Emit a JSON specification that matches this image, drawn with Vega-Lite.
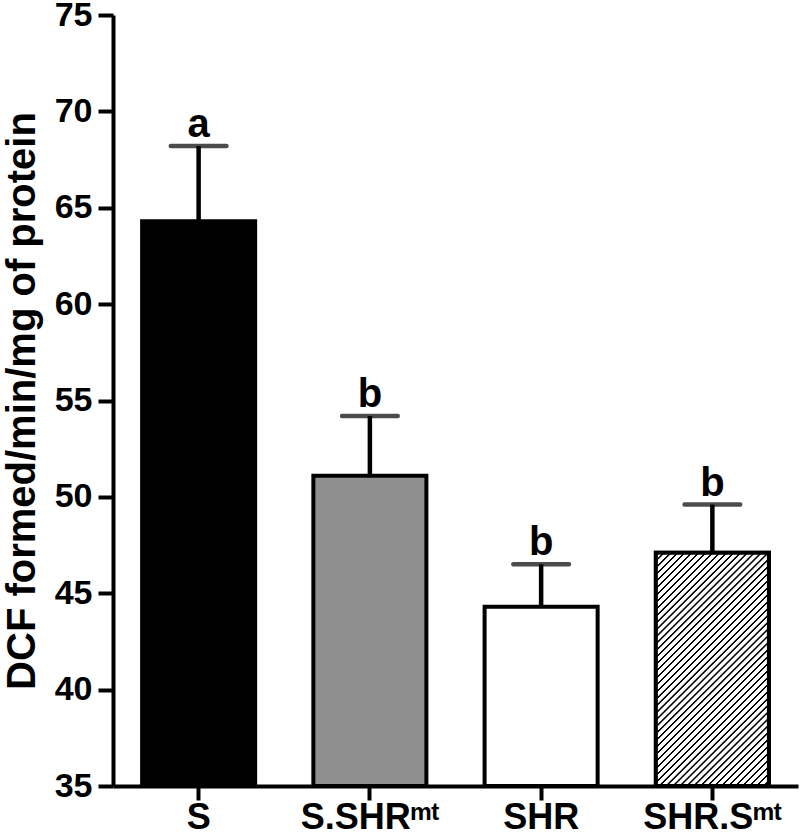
{
  "$schema": "https://vega.github.io/schema/vega-lite/v6.json",
  "width": 685,
  "height": 771,
  "autosize": {"type": "none"},
  "padding": {"left": 113, "top": 15, "right": 2, "bottom": 52},
  "config": {
    "view": {"stroke": null},
    "font": "Liberation Sans",
    "axis": {
      "domainColor": "#000000",
      "domainWidth": 4,
      "tickColor": "#000000",
      "tickWidth": 4,
      "labelColor": "#000000",
      "labelFont": "Liberation Sans",
      "labelFontWeight": "bold",
      "titleFont": "Liberation Sans",
      "titleFontWeight": "bold",
      "titleColor": "#000000",
      "grid": false
    }
  },
  "data": {
    "values": [
      {"group": "S", "mean": 64.3, "upper": 68.2, "letter": "a"},
      {"group": "S.SHRᵐᵗ", "mean": 51.1, "upper": 54.2, "letter": "b"},
      {"group": "SHR", "mean": 44.3, "upper": 46.5, "letter": "b"},
      {"group": "SHR.Sᵐᵗ", "mean": 47.1, "upper": 49.6, "letter": "b"}
    ]
  },
  "encoding": {
    "x": {
      "field": "group",
      "type": "nominal",
      "sort": null,
      "scale": {"paddingInner": 0.34, "paddingOuter": 0.17},
      "axis": {
        "title": null,
        "labelAngle": 0,
        "labelFontSize": 36,
        "labelPadding": 0,
        "tickSize": 14
      }
    }
  },
  "layer": [
    {
      "mark": {"type": "rule", "strokeWidth": 4.5, "color": "#000000"},
      "encoding": {
        "y": {"field": "mean", "type": "quantitative"},
        "y2": {"field": "upper"}
      }
    },
    {
      "mark": {"type": "tick", "size": 60, "thickness": 4.5, "color": "#000000", "cornerRadius": 2},
      "encoding": {
        "y": {"field": "upper", "type": "quantitative"}
      }
    },
    {
      "mark": {"type": "bar", "stroke": "#000000", "strokeWidth": 4},
      "encoding": {
        "y": {
          "field": "mean",
          "type": "quantitative",
          "scale": {"domain": [35, 75], "zero": false, "nice": false},
          "axis": {
            "values": [35, 40, 45, 50, 55, 60, 65, 70, 75],
            "labelFontSize": 34,
            "labelPadding": 6,
            "tickSize": 15,
            "title": "DCF formed/min/mg of protein",
            "titleFontSize": 40,
            "titlePadding": 12
          }
        },
        "y2": {"datum": 35},
        "fill": {
          "field": "group",
          "type": "nominal",
          "sort": null,
          "scale": {"domain": ["S", "S.SHRᵐᵗ", "SHR", "SHR.Sᵐᵗ"], "range": ["#000000", "#8f8f8f", "#ffffff", "#ffffff"]},
          "legend": null
        }
      }
    },
    {
      "transform": [{"filter": "datum.group === 'SHR.Sᵐᵗ'"}],
      "mark": {
        "type": "bar",
        "stroke": "#000000",
        "strokeWidth": 4,
        "fill": {
          "gradient": "linear",
          "x1": 0, "y1": 0, "x2": 0.581, "y2": 1.2025,
          "stops": [
            {"offset":0,"color":"#fff"},{"offset":0.0015,"color":"#000"},{"offset":0.006,"color":"#000"},{"offset":0.0075,"color":"#fff"},
            {"offset":0.02,"color":"#fff"},{"offset":0.0215,"color":"#000"},{"offset":0.026,"color":"#000"},{"offset":0.0275,"color":"#fff"},
            {"offset":0.04,"color":"#fff"},{"offset":0.0415,"color":"#000"},{"offset":0.046,"color":"#000"},{"offset":0.0475,"color":"#fff"},
            {"offset":0.06,"color":"#fff"},{"offset":0.0615,"color":"#000"},{"offset":0.066,"color":"#000"},{"offset":0.0675,"color":"#fff"},
            {"offset":0.08,"color":"#fff"},{"offset":0.0815,"color":"#000"},{"offset":0.086,"color":"#000"},{"offset":0.0875,"color":"#fff"},
            {"offset":0.10,"color":"#fff"},{"offset":0.1015,"color":"#000"},{"offset":0.106,"color":"#000"},{"offset":0.1075,"color":"#fff"},
            {"offset":0.12,"color":"#fff"},{"offset":0.1215,"color":"#000"},{"offset":0.126,"color":"#000"},{"offset":0.1275,"color":"#fff"},
            {"offset":0.14,"color":"#fff"},{"offset":0.1415,"color":"#000"},{"offset":0.146,"color":"#000"},{"offset":0.1475,"color":"#fff"},
            {"offset":0.16,"color":"#fff"},{"offset":0.1615,"color":"#000"},{"offset":0.166,"color":"#000"},{"offset":0.1675,"color":"#fff"},
            {"offset":0.18,"color":"#fff"},{"offset":0.1815,"color":"#000"},{"offset":0.186,"color":"#000"},{"offset":0.1875,"color":"#fff"},
            {"offset":0.20,"color":"#fff"},{"offset":0.2015,"color":"#000"},{"offset":0.206,"color":"#000"},{"offset":0.2075,"color":"#fff"},
            {"offset":0.22,"color":"#fff"},{"offset":0.2215,"color":"#000"},{"offset":0.226,"color":"#000"},{"offset":0.2275,"color":"#fff"},
            {"offset":0.24,"color":"#fff"},{"offset":0.2415,"color":"#000"},{"offset":0.246,"color":"#000"},{"offset":0.2475,"color":"#fff"},
            {"offset":0.26,"color":"#fff"},{"offset":0.2615,"color":"#000"},{"offset":0.266,"color":"#000"},{"offset":0.2675,"color":"#fff"},
            {"offset":0.28,"color":"#fff"},{"offset":0.2815,"color":"#000"},{"offset":0.286,"color":"#000"},{"offset":0.2875,"color":"#fff"},
            {"offset":0.30,"color":"#fff"},{"offset":0.3015,"color":"#000"},{"offset":0.306,"color":"#000"},{"offset":0.3075,"color":"#fff"},
            {"offset":0.32,"color":"#fff"},{"offset":0.3215,"color":"#000"},{"offset":0.326,"color":"#000"},{"offset":0.3275,"color":"#fff"},
            {"offset":0.34,"color":"#fff"},{"offset":0.3415,"color":"#000"},{"offset":0.346,"color":"#000"},{"offset":0.3475,"color":"#fff"},
            {"offset":0.36,"color":"#fff"},{"offset":0.3615,"color":"#000"},{"offset":0.366,"color":"#000"},{"offset":0.3675,"color":"#fff"},
            {"offset":0.38,"color":"#fff"},{"offset":0.3815,"color":"#000"},{"offset":0.386,"color":"#000"},{"offset":0.3875,"color":"#fff"},
            {"offset":0.40,"color":"#fff"},{"offset":0.4015,"color":"#000"},{"offset":0.406,"color":"#000"},{"offset":0.4075,"color":"#fff"},
            {"offset":0.42,"color":"#fff"},{"offset":0.4215,"color":"#000"},{"offset":0.426,"color":"#000"},{"offset":0.4275,"color":"#fff"},
            {"offset":0.44,"color":"#fff"},{"offset":0.4415,"color":"#000"},{"offset":0.446,"color":"#000"},{"offset":0.4475,"color":"#fff"},
            {"offset":0.46,"color":"#fff"},{"offset":0.4615,"color":"#000"},{"offset":0.466,"color":"#000"},{"offset":0.4675,"color":"#fff"},
            {"offset":0.48,"color":"#fff"},{"offset":0.4815,"color":"#000"},{"offset":0.486,"color":"#000"},{"offset":0.4875,"color":"#fff"},
            {"offset":0.50,"color":"#fff"},{"offset":0.5015,"color":"#000"},{"offset":0.506,"color":"#000"},{"offset":0.5075,"color":"#fff"},
            {"offset":0.52,"color":"#fff"},{"offset":0.5215,"color":"#000"},{"offset":0.526,"color":"#000"},{"offset":0.5275,"color":"#fff"},
            {"offset":0.54,"color":"#fff"},{"offset":0.5415,"color":"#000"},{"offset":0.546,"color":"#000"},{"offset":0.5475,"color":"#fff"},
            {"offset":0.56,"color":"#fff"},{"offset":0.5615,"color":"#000"},{"offset":0.566,"color":"#000"},{"offset":0.5675,"color":"#fff"},
            {"offset":0.58,"color":"#fff"},{"offset":0.5815,"color":"#000"},{"offset":0.586,"color":"#000"},{"offset":0.5875,"color":"#fff"},
            {"offset":0.60,"color":"#fff"},{"offset":0.6015,"color":"#000"},{"offset":0.606,"color":"#000"},{"offset":0.6075,"color":"#fff"},
            {"offset":0.62,"color":"#fff"},{"offset":0.6215,"color":"#000"},{"offset":0.626,"color":"#000"},{"offset":0.6275,"color":"#fff"},
            {"offset":0.64,"color":"#fff"},{"offset":0.6415,"color":"#000"},{"offset":0.646,"color":"#000"},{"offset":0.6475,"color":"#fff"},
            {"offset":0.66,"color":"#fff"},{"offset":0.6615,"color":"#000"},{"offset":0.666,"color":"#000"},{"offset":0.6675,"color":"#fff"},
            {"offset":0.68,"color":"#fff"},{"offset":0.6815,"color":"#000"},{"offset":0.686,"color":"#000"},{"offset":0.6875,"color":"#fff"},
            {"offset":0.70,"color":"#fff"},{"offset":0.7015,"color":"#000"},{"offset":0.706,"color":"#000"},{"offset":0.7075,"color":"#fff"},
            {"offset":0.72,"color":"#fff"},{"offset":0.7215,"color":"#000"},{"offset":0.726,"color":"#000"},{"offset":0.7275,"color":"#fff"},
            {"offset":0.74,"color":"#fff"},{"offset":0.7415,"color":"#000"},{"offset":0.746,"color":"#000"},{"offset":0.7475,"color":"#fff"},
            {"offset":0.76,"color":"#fff"},{"offset":0.7615,"color":"#000"},{"offset":0.766,"color":"#000"},{"offset":0.7675,"color":"#fff"},
            {"offset":0.78,"color":"#fff"},{"offset":0.7815,"color":"#000"},{"offset":0.786,"color":"#000"},{"offset":0.7875,"color":"#fff"},
            {"offset":0.80,"color":"#fff"},{"offset":0.8015,"color":"#000"},{"offset":0.806,"color":"#000"},{"offset":0.8075,"color":"#fff"},
            {"offset":0.82,"color":"#fff"},{"offset":0.8215,"color":"#000"},{"offset":0.826,"color":"#000"},{"offset":0.8275,"color":"#fff"},
            {"offset":0.84,"color":"#fff"},{"offset":0.8415,"color":"#000"},{"offset":0.846,"color":"#000"},{"offset":0.8475,"color":"#fff"},
            {"offset":0.86,"color":"#fff"},{"offset":0.8615,"color":"#000"},{"offset":0.866,"color":"#000"},{"offset":0.8675,"color":"#fff"},
            {"offset":0.88,"color":"#fff"},{"offset":0.8815,"color":"#000"},{"offset":0.886,"color":"#000"},{"offset":0.8875,"color":"#fff"},
            {"offset":0.90,"color":"#fff"},{"offset":0.9015,"color":"#000"},{"offset":0.906,"color":"#000"},{"offset":0.9075,"color":"#fff"},
            {"offset":0.92,"color":"#fff"},{"offset":0.9215,"color":"#000"},{"offset":0.926,"color":"#000"},{"offset":0.9275,"color":"#fff"},
            {"offset":0.94,"color":"#fff"},{"offset":0.9415,"color":"#000"},{"offset":0.946,"color":"#000"},{"offset":0.9475,"color":"#fff"},
            {"offset":0.96,"color":"#fff"},{"offset":0.9615,"color":"#000"},{"offset":0.966,"color":"#000"},{"offset":0.9675,"color":"#fff"},
            {"offset":0.98,"color":"#fff"},{"offset":0.9815,"color":"#000"},{"offset":0.986,"color":"#000"},{"offset":0.9875,"color":"#fff"},
            {"offset":1,"color":"#fff"}
          ]
        }
      },
      "encoding": {
        "y": {"field": "mean", "type": "quantitative"},
        "y2": {"datum": 35}
      }
    },
    {
      "mark": {"type": "text", "fontSize": 40, "fontWeight": "bold", "baseline": "alphabetic", "dy": -9, "color": "#000000"},
      "encoding": {
        "y": {"field": "upper", "type": "quantitative"},
        "text": {"field": "letter"}
      }
    }
  ]
}
